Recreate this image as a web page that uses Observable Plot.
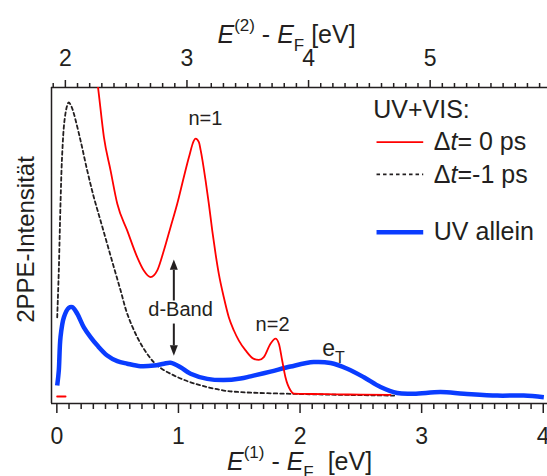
<!DOCTYPE html>
<html>
<head>
<meta charset="utf-8">
<script src="https://cdn.jsdelivr.net/npm/d3@7"></script>
<script src="https://cdn.jsdelivr.net/npm/@observablehq/plot@0.6"></script>
<style>
html, body { margin: 0; padding: 0; background: #fff; }
#chart { width: 547px; height: 476px; }
</style>
</head>
<body>
<div id="chart"></div>
<script>
// ---------- data ----------
const energyOffset = 1.93; // E(2) - E(1) in eV

// Δt = 0 ps (UV+VIS), red
const dt0Energy = [0.32, 0.345, 0.387, 0.442, 0.497, 0.579, 0.661, 0.715, 0.771, 0.826, 0.880, 0.935, 0.990, 1.044, 1.086, 1.127, 1.141, 1.168, 1.183, 1.223, 1.25, 1.278, 1.305, 1.332, 1.373, 1.414, 1.456, 1.497, 1.552, 1.62, 1.661, 1.702, 1.757, 1.798, 1.826, 1.853, 1.88, 1.922, 1.949, 2.1, 2.3, 2.5, 2.744];
const dt0Intensity = [106, 98.0, 84.3, 73.7, 63.2, 54.7, 46.3, 42.1, 40.0, 42.1, 48.4, 55.8, 63.2, 71.6, 77.9, 83.2, 83.8, 82.7, 80.1, 70.6, 63.2, 54.7, 47.4, 41.0, 33.6, 27.3, 23.1, 19.9, 16.8, 14.1, 13.8, 14.7, 18.9, 20.5, 18.9, 13.6, 8.3, 4.1, 3.1, 3.0, 2.9, 2.8, 2.7];
// short red stub near E = 0
const dt0StubEnergy = [0.003, 0.071];
const dt0StubIntensity = [2.2, 2.2];

// Δt = -1 ps (UV+VIS), black dashed
const dtm1Energy = [0.003, 0.016, 0.030, 0.044, 0.063, 0.085, 0.098, 0.12, 0.140, 0.195, 0.25, 0.304, 0.359, 0.414, 0.469, 0.524, 0.579, 0.661, 0.743, 0.826, 0.962, 1.10, 1.237, 1.373, 1.51, 2.0, 2.415, 2.785];
const dtm1Intensity = [27.3, 42.0, 63.2, 79.0, 89.6, 94.3, 95.3, 94.0, 91.7, 83.2, 73.7, 65.3, 57.9, 50.5, 43.1, 35.8, 28.4, 21.0, 15.7, 12.0, 8.9, 6.7, 5.2, 4.1, 3.6, 3.0, 2.7, 2.5];

// UV allein, blue
const uvEnergy = [0.003, 0.016, 0.030, 0.058, 0.099, 0.127, 0.168, 0.222, 0.277, 0.332, 0.414, 0.497, 0.579, 0.688, 0.798, 0.88, 0.935, 1.017, 1.10, 1.237, 1.373, 1.51, 1.593, 1.757, 1.922, 2.113, 2.251, 2.388, 2.525, 2.662, 2.799, 2.936, 3.155, 3.347, 3.622, 3.840, 4.005];
const uvIntensity = [5.7, 10.4, 21.0, 27.3, 30.3, 30.5, 28.4, 24.1, 21.0, 18.4, 15.2, 13.4, 12.6, 11.8, 12.0, 12.6, 12.9, 11.5, 9.4, 7.8, 7.4, 7.9, 8.6, 10.1, 11.7, 13.1, 12.8, 11.0, 8.3, 5.2, 3.3, 3.1, 3.6, 3.1, 2.5, 2.5, 2.0];

// tick labels
const bottomTickLabels = [0, 1, 2, 3, 4];
const topTickLabels = [2, 3, 4, 5];

// texts
const legendHeader = "UV+VIS:";
const legendLabels = ["Δt= 0 ps", "Δt=-1 ps", "UV allein"];
const annotations = ["n=1", "n=2", "d-Band", "eT"];

// ---------- layout ----------
const xDomain = [-0.044, 4.035];
const yDomain = [0, 100];
const red = "#ff0000", blue = "#0a3cff", ink = "#231f20";
const font = "'Liberation Sans', Arial, Helvetica, sans-serif";

const rows = (E, I) => E.map((e, i) => ({e, v: I[i]}));
const dt0Rows = rows(dt0Energy, dt0Intensity);
const dt0StubRows = rows(dt0StubEnergy, dt0StubIntensity);
const dtm1Rows = rows(dtm1Energy, dtm1Intensity);
const uvRows = rows(uvEnergy, uvIntensity);

const bottomMinor = d3.range(0, 41).map(k => k / 10).filter(v => Math.abs(v - Math.round(v)) > 1e-6);
const topMinor = d3.range(19, 60).map(k => k / 10).filter(v => Math.abs(v - Math.round(v)) > 1e-6).map(v => v - energyOffset);
const topMajor = topTickLabels.map(v => v - energyOffset);

// legend layout (data coordinates)
const leg = {x1: 2.629, x2: 3.013, tx: 3.10, hx: 2.602, hy: 90.2, ys: [82.7, 72.5, 54.2], shift: -2.6};
const legendLines = [
  {x1: leg.x1, x2: leg.x2, y: leg.ys[0], stroke: red, w: 1.8, dash: null},
  {x1: leg.x1, x2: leg.x2, y: leg.ys[1], stroke: ink, w: 1.8, dash: "3.5,3"},
  {x1: leg.x1, x2: leg.x2, y: leg.ys[2], stroke: blue, w: 4.5, dash: null}
];

// annotation layout (data coordinates)
const annPos = [
  {x: 1.222, y: 88.0},
  {x: 1.774, y: 23.1},
  {x: 1.017, y: 27.8},
  {x: 2.182, y: 14.9}
];
const arrowX = 0.962;
const arrowShafts = [{y1: 32.6, y2: 42.3}, {y1: 25.3, y2: 18.4}];
const headUp = {draw(ctx, size) { const s = Math.sqrt(size / Math.PI); ctx.moveTo(0, -2.6 * s); ctx.lineTo(s, 0); ctx.lineTo(-s, 0); ctx.closePath(); }};
const headDown = {draw(ctx, size) { const s = Math.sqrt(size / Math.PI); ctx.moveTo(0, 2.6 * s); ctx.lineTo(s, 0); ctx.lineTo(-s, 0); ctx.closePath(); }};

const lineOpts = {x: "e", y: "v", curve: "catmull-rom", clip: true};

const svg = Plot.plot({
  width: 547,
  height: 476,
  marginLeft: 51,
  marginRight: 0,
  marginTop: 87,
  marginBottom: 73,
  x: {domain: xDomain, label: null, axis: null},
  y: {domain: yDomain, label: null, axis: null},
  style: {fontFamily: font, fontSize: "23px", color: ink, background: "#fff", overflow: "visible"},
  marks: [
    // frame lines
    Plot.ruleY([yDomain[1]], {stroke: ink, strokeWidth: 1.5}),
    Plot.ruleY([yDomain[0]], {stroke: ink, strokeWidth: 1.5}),
    Plot.ruleX([xDomain[0]], {stroke: ink, strokeWidth: 1.5}),
    // axes
    Plot.axisX(bottomTickLabels, {anchor: "bottom", tickSize: 10, tickPadding: 14, strokeWidth: 1.5, label: null, tickFormat: d => String(d)}),
    Plot.axisX(bottomMinor, {anchor: "bottom", tickSize: 6, strokeWidth: 1.5, label: null, tickFormat: () => ""}),
    Plot.axisX(topMajor, {anchor: "top", tickSize: 8, tickPadding: 14, strokeWidth: 1.5, label: null, tickFormat: d => String(Math.round(d + energyOffset))}),
    Plot.axisX(topMinor, {anchor: "top", tickSize: 5, strokeWidth: 1.5, label: null, tickFormat: () => ""}),
    // curves
    Plot.line(dtm1Rows, {...lineOpts, stroke: ink, strokeWidth: 1.8, strokeDasharray: "3.5,3"}),
    Plot.line(uvRows, {...lineOpts, stroke: blue, strokeWidth: 4.5, strokeLinecap: "butt"}),
    Plot.line(dt0Rows, {...lineOpts, curve: "monotone-x", stroke: red, strokeWidth: 1.8}),
    Plot.line(dt0StubRows, {...lineOpts, stroke: red, strokeWidth: 2}),
    // d-Band arrows
    Plot.link(arrowShafts, {x1: () => arrowX, x2: () => arrowX, y1: "y1", y2: "y2", stroke: ink, strokeWidth: 2}),
    Plot.dot([arrowShafts[0]], {x: () => arrowX, y: "y2", symbol: headUp, r: 4, fill: ink, stroke: "none"}),
    Plot.dot([arrowShafts[1]], {x: () => arrowX, y: "y2", symbol: headDown, r: 4, fill: ink, stroke: "none"}),
    // annotations
    Plot.text(annotations.slice(0, 3), {text: d => d, x: (d, i) => annPos[i].x, y: (d, i) => annPos[i].y, textAnchor: "middle", lineAnchor: "bottom", fontSize: 20, fill: ink}),
    Plot.text(annotations.slice(3), {text: d => d, x: () => annPos[3].x, y: () => annPos[3].y, textAnchor: "start", lineAnchor: "bottom", fontSize: 23, fill: ink}),
    // legend
    Plot.text([legendHeader], {text: d => d, x: () => leg.hx, y: () => leg.hy, textAnchor: "start", lineAnchor: "bottom", fontSize: 25, fill: ink}),
    Plot.link(legendLines, {x1: "x1", x2: "x2", y1: "y", y2: "y", stroke: "stroke", strokeWidth: 1.8}),
    Plot.text(legendLabels, {text: d => d, x: () => leg.tx, y: (d, i) => leg.ys[i] + leg.shift, textAnchor: "start", lineAnchor: "bottom", fontSize: 25, fill: ink}),
    // axis titles
    Plot.text(["TOPTITLE"], {text: d => d, x: () => 1.889, frameAnchor: "top", dy: -45, textAnchor: "middle", lineAnchor: "bottom", fontSize: 25, fill: ink}),
    Plot.text(["BOTTOMTITLE"], {text: d => d, x: () => 1.996, frameAnchor: "bottom", dy: 66, textAnchor: "middle", lineAnchor: "bottom", fontSize: 25, fill: ink}),
    Plot.text(["2PPE-Intensität"], {text: d => d, y: () => 51.9, frameAnchor: "left", dx: -25.5, rotate: -90, textAnchor: "middle", lineAnchor: "middle", fontSize: 24, fill: ink})
  ]
});

// rich text replacement
function rich(el, parts) {
  const s = d3.select(el);
  s.text(null);
  s.style("white-space", "pre");
  for (const p of parts) {
    const t = s.append("tspan").text(p.t);
    if (p.i) t.attr("font-style", "italic");
    if (p.fs) t.attr("font-size", p.fs);
    if (p.dy) t.attr("dy", p.dy);
  }
}
const titleParts = n => [
  {t: "E", i: true},
  {t: "(" + n + ")", fs: 17, dy: -12},
  {t: " - ", dy: 12},
  {t: "E", i: true},
  {t: "F", fs: 17, dy: 8},
  {t: n === 1 ? "  [eV]" : " [eV]", dy: -8}
];
const dtParts = rest => [{t: "Δ"}, {t: "t", i: true}, {t: rest}];
d3.select(svg).selectAll("text").each(function () {
  const c = this.textContent;
  if (c === "TOPTITLE") rich(this, titleParts(2));
  else if (c === "BOTTOMTITLE") rich(this, titleParts(1));
  else if (c === "Δt= 0 ps") rich(this, dtParts("= 0 ps"));
  else if (c === "Δt=-1 ps") rich(this, dtParts("=-1 ps"));
  else if (c === "eT") rich(this, [{t: "e"}, {t: "T", fs: 16, dy: 7}]);
});

// legend sample styling (dash + width) per entry
const linkGroups = d3.select(svg).selectAll("g[aria-label='link']").nodes();
const legendGroup = linkGroups[linkGroups.length - 1];
d3.select(legendGroup).selectAll("path, line").each(function (d, i) {
  const l = legendLines[i];
  if (!l) return;
  d3.select(this).attr("stroke-width", l.w);
  if (l.dash) d3.select(this).attr("stroke-dasharray", l.dash);
});

document.getElementById("chart").appendChild(svg);
</script>
</body>
</html>
